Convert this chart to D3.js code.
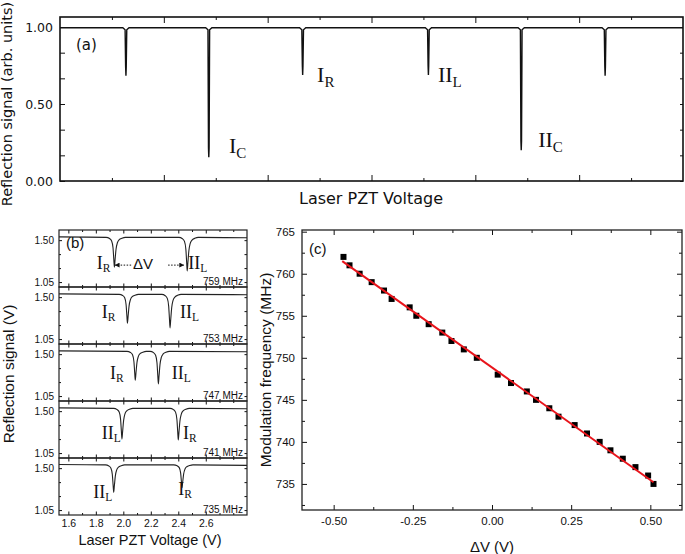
<!DOCTYPE html>
<html>
<head>
<meta charset="utf-8">
<script src="https://cdn.jsdelivr.net/npm/d3@7"></script>
<style>
  body { margin: 0; background: #fff; }
  svg { display: block; }
</style>
</head>
<body>
<svg id="fig" width="685" height="554"></svg>
<script>
// ---------- panel (a): full PZT scan ----------
const scanDipPos   = [0.635, 1.433, 2.337, 3.548, 4.442, 5.25];
const scanDipDepth = [0.684, 0.155, 0.688, 0.688, 0.20, 0.684];
const scanBase = 0.995;
const scanYTicks = [0, 0.5, 1.0];
const scanYMinor = [1 / 6, 2 / 6, 4 / 6, 5 / 6];
const scanXMajor = [1, 2, 3, 4, 5];
const scanXMinor = [0.5, 1.5, 2.5, 3.5, 4.5, 5.5];
// label: main, subscript, x, y (data units)
const scanLabels = [
  ["I", "C", 1.628, 0.18],
  ["I", "R", 2.476, 0.643],
  ["II", "L", 3.64, 0.643],
  ["II", "C", 4.605, 0.22]
];

// ---------- panel (b): zoomed scans at several modulation frequencies ----------
const freqLabels = ["759 MHz", "753 MHz", "747 MHz", "741 MHz", "735 MHz"];
const irPos    = [1.935, 2.030, 2.087, 2.400, 2.427];
const irDepth  = [1.21, 1.22, 1.22, 1.19, 1.29];
const iilPos   = [2.465, 2.340, 2.255, 1.990, 1.930];
const iilDepth = [1.17, 1.17, 1.18, 1.20, 1.24];
const traceBase = [1.53, 1.53, 1.53, 1.53, 1.535];
const irLabelAt  = [[1.806, 1.19], [1.843, 1.279], [1.904, 1.229], [2.435, 1.20], [2.40, 1.21]];
const iilLabelAt = [[2.473, 1.19], [2.413, 1.279], [2.352, 1.229], [1.843, 1.20], [1.782, 1.184]];
// dip line shape: offset (V) and fraction of full depth
const dipOffset = [-0.06, -0.035, -0.02, -0.01, -0.004, 0, 0.005, 0.012, 0.022, 0.035, 0.055, 0.08];
const dipShape  = [0, 0.04, 0.12, 0.35, 0.75, 1, 0.75, 0.4, 0.18, 0.08, 0.03, 0];
const zoomXTicks = [1.6, 1.8, 2.0, 2.2, 2.4, 2.6];
const zoomXMinor = [1.7, 1.9, 2.1, 2.3, 2.5, 2.7, 2.8];
const zoomYTicks = [1.05, 1.50];
const zoomYMinor = [1.20, 1.35];

// ---------- panel (c): modulation frequency vs dV ----------
const deltaV = [-0.469, -0.45, -0.418, -0.38, -0.341, -0.317, -0.26, -0.239, -0.2, -0.157, -0.128,
  -0.089, -0.048, 0.018, 0.06, 0.11, 0.139, 0.181, 0.21, 0.261, 0.3, 0.34, 0.374, 0.413, 0.453, 0.493, 0.51];
const modFreq = [762, 761, 760, 759, 758, 757, 756, 755, 754, 753, 752, 751, 750, 748, 747, 746,
  745, 744, 743, 742, 741, 740, 739, 738, 737, 736, 735];
const fitDV = [-0.473, 0.51];
const fitFreq = [761.5, 735.2];
const dvTicks = [-0.5, -0.25, 0, 0.25, 0.5];
const dvMinor = [-0.375, -0.125, 0.125, 0.375];
const freqTicks = [735, 740, 745, 750, 755, 760, 765];
const freqMinor = [732.5, 737.5, 742.5, 747.5, 752.5, 757.5, 762.5];

const SANS_A = "'DejaVu Sans', Verdana, sans-serif";
const SANS = "'Liberation Sans', Arial, sans-serif";
const SERIF = "'Liberation Serif', 'Times New Roman', serif";

const svg = d3.select("#fig");

// inward ticks, no domain line (frame drawn separately)
function ticks(g, axisFn, scale, values, size, fmt, pad, transform, font, fsize) {
  const ax = axisFn(scale).tickValues(values).tickSizeInner(-size).tickSizeOuter(0)
    .tickPadding(pad).tickFormat(fmt || (() => ""));
  const s = g.append("g").attr("transform", transform).call(ax);
  s.select(".domain").remove();
  s.selectAll("line").attr("stroke", "#111");
  s.attr("font-family", font).attr("font-size", fsize);
  s.selectAll("text").attr("fill", "#111");
  return s;
}

function subLabel(g, x, y, main, sub, size, subSize, dy) {
  const t = g.append("text").attr("x", x).attr("y", y)
    .attr("font-family", SERIF).attr("font-size", size).attr("fill", "#111");
  t.append("tspan").text(main);
  t.append("tspan").attr("font-size", subSize).attr("dy", dy).text(sub);
}

// ================= panel (a) =================
{
  const x = d3.scaleLinear([0, 6], [60, 683]);
  const y = d3.scaleLinear([0, 1.065], [181, 17]);
  const g = svg.append("g");

  const pts = [[0, scanBase]];
  scanDipPos.forEach((p, i) => {
    pts.push([p - 0.03, scanBase], [p - 0.008, 0.982], [p - 0.003, scanDipDepth[i] + 0.06],
      [p, scanDipDepth[i]], [p + 0.003, scanDipDepth[i] + 0.06], [p + 0.008, 0.982], [p + 0.03, scanBase]);
  });
  pts.push([6, scanBase]);
  g.append("path").datum(pts)
    .attr("d", d3.line().x(d => x(d[0])).y(d => y(d[1])))
    .attr("fill", "none").attr("stroke", "#111").attr("stroke-width", 1.4);

  ticks(g, d3.axisBottom, x, scanXMajor, 6, null, 4, "translate(0,181)", SANS_A, 12);
  ticks(g, d3.axisBottom, x, scanXMinor, 3, null, 4, "translate(0,181)", SANS_A, 12);
  ticks(g, d3.axisTop, x, scanXMajor, 6, null, 4, "translate(0,17)", SANS_A, 12);
  ticks(g, d3.axisTop, x, scanXMinor, 3, null, 4, "translate(0,17)", SANS_A, 12);
  ticks(g, d3.axisLeft, y, scanYTicks, 5, d3.format(".2f"), 7, "translate(60,0)", SANS_A, 12.5);
  ticks(g, d3.axisLeft, y, scanYMinor, 5, null, 7, "translate(60,0)", SANS_A, 12);
  ticks(g, d3.axisRight, y, scanYTicks.concat(scanYMinor), 3, null, 4, "translate(683,0)", SANS_A, 12);

  g.append("rect").attr("x", 60).attr("y", 17).attr("width", 623).attr("height", 164)
    .attr("fill", "none").attr("stroke", "#111").attr("stroke-width", 1.6);

  scanLabels.forEach(l => subLabel(g, x(l[2]), y(l[3]), l[0], l[1], 22, 15, 5));

  g.append("text").attr("x", 76).attr("y", 50).attr("font-family", SANS_A)
    .attr("font-size", 15).attr("fill", "#111").text("(a)");
  g.append("text").attr("x", 371).attr("y", 204).attr("text-anchor", "middle")
    .attr("font-family", SANS_A).attr("font-size", 16).attr("fill", "#111").text("Laser PZT Voltage");
  g.append("text").attr("transform", "translate(12,104) rotate(-90)").attr("text-anchor", "middle")
    .attr("font-family", SANS_A).attr("font-size", 14.5).attr("fill", "#111")
    .text("Reflection signal (arb. units)");
}

// ================= panel (b) =================
{
  const x = d3.scaleLinear([1.532, 2.90], [59, 247]);
  const g = svg.append("g");
  const defs = svg.append("defs");
  defs.append("marker").attr("id", "ah").attr("viewBox", "0 0 10 10").attr("refX", 9).attr("refY", 5)
    .attr("markerWidth", 5).attr("markerHeight", 5).attr("orient", "auto-start-reverse")
    .append("path").attr("d", "M0,0L10,5L0,10z").attr("fill", "#111");

  const top0 = 230, h = 57;
  freqLabels.forEach((f, i) => {
    const top = top0 + i * h, bot = top + h;
    const y = d3.scaleLinear([0.997, 1.609], [bot, top]);
    const sg = g.append("g");

    const dips = [[irPos[i], irDepth[i]], [iilPos[i], iilDepth[i]]].sort((a, b) => a[0] - b[0]);
    const base = traceBase[i];
    const pts = [[1.532, base + 0.005]];
    dips.forEach(d => dipOffset.forEach((o, k) => pts.push([d[0] + o, base - (base - d[1]) * dipShape[k]])));
    pts.push([2.90, base - 0.005]);
    sg.append("path").datum(pts)
      .attr("d", d3.line().x(d => x(d[0])).y(d => y(d[1])).curve(d3.curveMonotoneX))
      .attr("fill", "none").attr("stroke", "#222").attr("stroke-width", 1.1);

    const last = i === freqLabels.length - 1;
    ticks(sg, d3.axisBottom, x, zoomXTicks, 3.5, last ? d3.format(".1f") : null, 5,
      `translate(0,${bot})`, SANS, 10.5);
    ticks(sg, d3.axisBottom, x, zoomXMinor, 2, null, 4, `translate(0,${bot})`, SANS, 10);
    ticks(sg, d3.axisTop, x, zoomXTicks, 3.5, null, 4, `translate(0,${top})`, SANS, 10);
    ticks(sg, d3.axisTop, x, zoomXMinor, 2, null, 4, `translate(0,${top})`, SANS, 10);
    ticks(sg, d3.axisLeft, y, zoomYTicks, 3, d3.format(".2f"), 5, "translate(59,0)", SANS, 10);
    ticks(sg, d3.axisLeft, y, zoomYMinor, 2, null, 4, "translate(59,0)", SANS, 10);
    ticks(sg, d3.axisRight, y, zoomYTicks.concat(zoomYMinor), 2.5, null, 4, "translate(247,0)", SANS, 10);

    sg.append("rect").attr("x", 59).attr("y", top).attr("width", 188).attr("height", h)
      .attr("fill", "none").attr("stroke", "#222").attr("stroke-width", 1.2);

    subLabel(sg, x(irLabelAt[i][0]), y(irLabelAt[i][1]), "I", "R", 18, 11.5, 3);
    subLabel(sg, x(iilLabelAt[i][0]), y(iilLabelAt[i][1]), "II", "L", 18, 11.5, 3);
    sg.append("text").attr("x", 243).attr("y", bot - 2.5).attr("text-anchor", "end")
      .attr("font-family", SANS).attr("font-size", 10).attr("fill", "#111").text(f);

    if (i === 0) {
      const ay = y(1.232);
      sg.append("line").attr("x1", x(2.057)).attr("x2", x(1.94)).attr("y1", ay).attr("y2", ay)
        .attr("stroke", "#111").attr("stroke-width", 1).attr("stroke-dasharray", "1.5,1.5")
        .attr("marker-end", "url(#ah)");
      sg.append("line").attr("x1", x(2.326)).attr("x2", x(2.44)).attr("y1", ay).attr("y2", ay)
        .attr("stroke", "#111").attr("stroke-width", 1).attr("stroke-dasharray", "1.5,1.5")
        .attr("marker-end", "url(#ah)");
      sg.append("text").attr("x", x(2.144)).attr("y", y(1.187)).attr("text-anchor", "middle")
        .attr("font-family", SANS).attr("font-size", 15).attr("fill", "#111").text("\u0394V");
      sg.append("text").attr("x", 66).attr("y", top + 18).attr("font-family", SANS)
        .attr("font-size", 15).attr("fill", "#111").text("(b)");
    }
  });

  g.append("text").attr("x", 150).attr("y", 545).attr("text-anchor", "middle")
    .attr("font-family", SANS).attr("font-size", 14.5).attr("fill", "#111").text("Laser PZT Voltage (V)");
  g.append("text").attr("transform", "translate(14,374) rotate(-90)").attr("text-anchor", "middle")
    .attr("font-family", SANS).attr("font-size", 15.5).attr("fill", "#111").text("Reflection signal (V)");
}

// ================= panel (c) =================
{
  const x = d3.scaleLinear([-0.6, 0.6], [302, 682]);
  const y = d3.scaleLinear([731.9, 765.2], [510, 230]);
  const g = svg.append("g");

  ticks(g, d3.axisBottom, x, dvTicks, 5, d => d.toFixed(2), 7, "translate(0,510)", SANS, 11.5);
  ticks(g, d3.axisBottom, x, dvMinor, 3, null, 4, "translate(0,510)", SANS, 11);
  ticks(g, d3.axisTop, x, dvTicks, 5, null, 4, "translate(0,230)", SANS, 11);
  ticks(g, d3.axisTop, x, dvMinor, 3, null, 4, "translate(0,230)", SANS, 11);
  ticks(g, d3.axisLeft, y, freqTicks, 5, d3.format("d"), 7, "translate(302,0)", SANS, 11.5);
  ticks(g, d3.axisLeft, y, freqMinor, 3, null, 4, "translate(302,0)", SANS, 11);
  ticks(g, d3.axisRight, y, freqTicks, 5, null, 4, "translate(682,0)", SANS, 11);
  ticks(g, d3.axisRight, y, freqMinor, 3, null, 4, "translate(682,0)", SANS, 11);

  g.append("rect").attr("x", 302).attr("y", 230).attr("width", 380).attr("height", 280)
    .attr("fill", "none").attr("stroke", "#222").attr("stroke-width", 1.3);

  g.selectAll("rect.pt").data(deltaV).join("rect").attr("class", "pt")
    .attr("x", d => x(d) - 3).attr("y", (d, i) => y(modFreq[i]) - 3)
    .attr("width", 6).attr("height", 6).attr("fill", "#000");

  g.append("path").datum(fitDV.map((d, i) => [d, fitFreq[i]]))
    .attr("d", d3.line().x(d => x(d[0])).y(d => y(d[1])))
    .attr("stroke", "#e8141b").attr("stroke-width", 2).attr("fill", "none");

  g.append("text").attr("x", 309).attr("y", 254).attr("font-family", SANS)
    .attr("font-size", 15).attr("fill", "#111").text("(c)");
  g.append("text").attr("x", 492).attr("y", 552).attr("text-anchor", "middle")
    .attr("font-family", SANS).attr("font-size", 15).attr("fill", "#111").text("\u0394V (V)");
  g.append("text").attr("transform", "translate(271,370) rotate(-90)").attr("text-anchor", "middle")
    .attr("font-family", SANS).attr("font-size", 15.5).attr("fill", "#111").text("Modulation frequency (MHz)");
}
</script>
</body>
</html>
